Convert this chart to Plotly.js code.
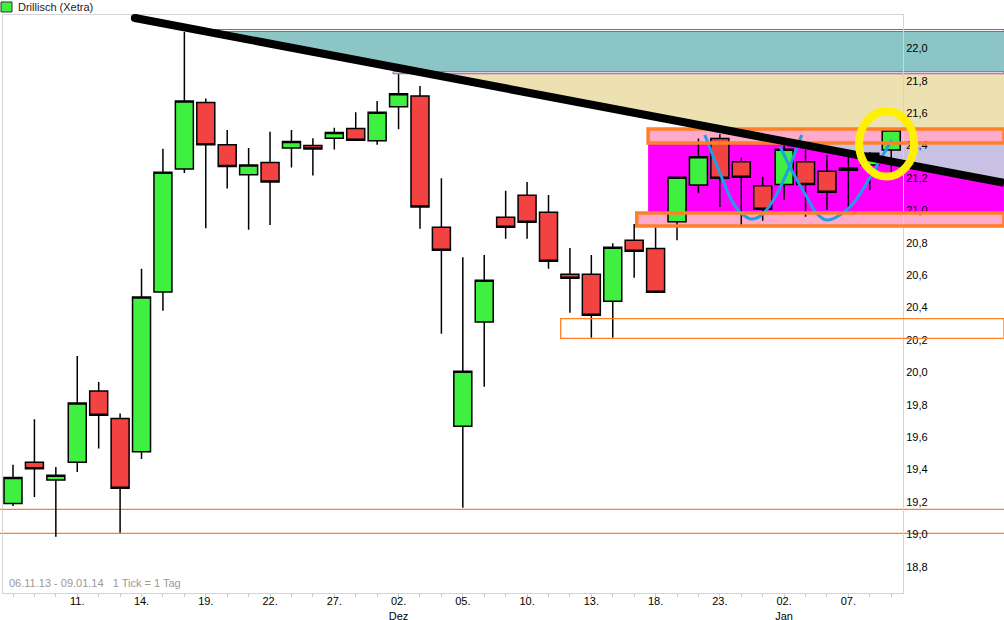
<!DOCTYPE html>
<html>
<head>
<meta charset="utf-8">
<script src="https://cdn.plot.ly/plotly-3.0.1.min.js"></script>
<style>html,body{margin:0;padding:0;background:#fff;}#chart{width:1004px;height:620px;}</style>
</head>
<body>
<div id="chart"></div>
<script>
// ---- data ----
const dates = ['2013-11-06','2013-11-07','2013-11-08','2013-11-11','2013-11-12','2013-11-13','2013-11-14','2013-11-15',
  '2013-11-18','2013-11-19','2013-11-20','2013-11-21','2013-11-22','2013-11-25','2013-11-26','2013-11-27','2013-11-28','2013-11-29',
  '2013-12-02','2013-12-03','2013-12-04','2013-12-05','2013-12-06','2013-12-09','2013-12-10','2013-12-11','2013-12-12','2013-12-13',
  '2013-12-16','2013-12-17','2013-12-18','2013-12-19','2013-12-20','2013-12-23','2013-12-27','2013-12-30',
  '2014-01-02','2014-01-03','2014-01-06','2014-01-07','2014-01-08','2014-01-09'];
const openP  = [19.19,19.445,19.335,19.445,19.885,19.715,19.51,20.495,21.255,21.665,21.405,21.22,21.295,21.385,21.40,21.445,21.505,21.43,
  21.64,21.705,20.895,19.667,20.31,20.957,21.093,20.988,20.605,20.605,20.438,20.815,20.765,20.93,21.156,21.444,21.30,21.152,
  21.16,21.30,21.241,21.247,21.28,21.372];
const highP  = [19.43,19.71,19.415,20.10,19.94,19.745,20.64,21.38,22.10,21.69,21.495,21.385,21.485,21.495,21.445,21.51,21.605,21.675,
  21.84,21.767,21.198,20.71,20.724,21.12,21.175,21.094,20.767,20.724,20.796,20.915,20.907,21.205,21.444,21.47,21.327,21.207,
  21.40,21.372,21.341,21.341,21.36,21.50];
const lowP   = [19.175,19.23,18.985,19.385,19.53,19.01,19.465,20.38,21.23,20.89,21.135,20.88,20.91,21.265,21.215,21.375,21.43,21.405,
  21.50,20.886,20.238,19.164,19.911,20.825,20.825,20.64,20.368,20.214,20.214,20.584,20.49,20.815,21.105,21.02,20.903,20.936,
  21.064,20.96,21.002,21.002,21.125,21.238];
const closeP = [19.35,19.405,19.365,19.81,19.735,19.285,20.465,21.235,21.675,21.405,21.27,21.28,21.175,21.425,21.378,21.48,21.432,21.605,
  21.72,21.02,20.753,20.006,20.568,20.895,20.926,20.685,20.58,20.352,20.772,20.747,20.494,21.204,21.331,21.198,21.204,21.006,
  21.377,21.16,21.111,21.261,21.352,21.496];

const tickIdx   = [3,6,9,12,15,18,21,24,27,30,33,36,39];
const tickLabel = ['11.','14.','19.','22.','27.','02.<br>Dez','05.','10.','13.','18.','23.','02.<br>Jan','07.'];
const yTicks = [18.8,19.0,19.2,19.4,19.6,19.8,20.0,20.2,20.4,20.6,20.8,21.0,21.2,21.4,21.6,21.8,22.0];

// drawing levels (values)
const tealZone   = [22.107, 21.853];
const purpleTop  = [22.116, 22.104];
const purpleBot  = [21.855, 21.843];
const beigeZone  = [21.843, 21.502];
const pinkTop    = [21.502, 21.415];
const pinkBot    = [20.983, 20.903];
const thinBox    = [20.331, 20.210];
const supportLines = [19.154, 19.006];
const trend = {i0: 5.69, v0: 22.187, slope: -0.02509};
const curveAx = [32.30,33.01,33.63,34.09,34.49,34.95,35.50,36.12,36.82];
const curveAy = [21.465,21.228,21.043,20.971,20.946,20.971,21.064,21.228,21.465];
const curveBx = [35.81,36.43,37.05,37.52,37.99,38.61,39.23,39.85,40.48,41.02];
const curveBy = [21.393,21.228,21.084,20.981,20.940,20.971,21.043,21.167,21.311,21.434];
const ring = {x0: 39.50, x1: 42.07, y0: 21.208, y1: 21.612};

// ---- layout geometry ----
const XR = [-0.467, 41.55];
const YR = [18.6377, 22.2056];
const RIGHT = 1.1122, LEFT = -0.0034;
const px = i => (i - XR[0]) / (XR[1] - XR[0]);
const py = v => (v - YR[0]) / (YR[1] - YR[0]);
const iR = XR[0] + RIGHT * (XR[1] - XR[0]);
const lineV = i => trend.v0 + trend.slope * (i - trend.i0);
const lineI = v => trend.i0 + (v - trend.v0) / trend.slope;
const idx = dates.map((d, i) => i);

function poly(pts){ return 'M' + pts.map(p => p[0].toFixed(5) + ',' + p[1].toFixed(5)).join('L') + 'Z'; }
function rectP(i0, v0, v1, fill, line, lw, layer){
  return {type:'rect', xref:'paper', yref:'paper', x0:px(i0), x1:RIGHT, y0:py(v0), y1:py(v1),
    fillcolor: fill || 'rgba(0,0,0,0)', line:{color: line || 'rgba(0,0,0,0)', width: lw || 0}, layer: layer};
}

const shapes = [
  {type:'path', xref:'paper', yref:'paper', layer:'below', fillcolor:'#8cc5c5', line:{width:0},
   path: poly([[px(lineI(tealZone[0])),py(tealZone[0])],[RIGHT,py(tealZone[0])],[RIGHT,py(tealZone[1])],[px(lineI(tealZone[1])),py(tealZone[1])]])},
  {type:'path', xref:'paper', yref:'paper', layer:'below', fillcolor:'#ede1b1', line:{width:0},
   path: poly([[px(lineI(beigeZone[0])),py(beigeZone[0])],[RIGHT,py(beigeZone[0])],[RIGHT,py(beigeZone[1])],[px(lineI(beigeZone[1])),py(beigeZone[1])]])},
  rectP(8.96, purpleTop[0], purpleTop[1], null, '#a050b0', 1, 'below'),
  rectP(17.74, purpleBot[0], purpleBot[1], null, '#a050b0', 1, 'below'),
  rectP(29.65, pinkTop[1], pinkBot[0], '#ff00ff', null, 0, 'below'),
  {type:'path', xref:'paper', yref:'paper', layer:'below', fillcolor:'#c9c1e3', line:{width:0},
   path: poly([[px(lineI(pinkTop[1])),py(pinkTop[1])],[RIGHT,py(pinkTop[1])],[RIGHT,py(lineV(iR))]])},
  rectP(29.65, pinkTop[0], pinkTop[1], '#ffaacb', null, 0, 'below'),
  rectP(29.12, pinkBot[0], pinkBot[1], '#ffaacb', null, 0, 'below'),
  {type:'line', xref:'paper', yref:'paper', layer:'below', x0:LEFT, x1:RIGHT, y0:py(supportLines[0]), y1:py(supportLines[0]), line:{color:'#ff8027', width:1.2}},
  {type:'line', xref:'paper', yref:'paper', layer:'below', x0:LEFT, x1:RIGHT, y0:py(supportLines[1]), y1:py(supportLines[1]), line:{color:'#ff8027', width:1.2}},
  rectP(29.65, pinkTop[0], pinkTop[1], null, '#ff8027', 3.5, 'above'),
  rectP(29.12, pinkBot[0], pinkBot[1], null, '#ff8027', 3.5, 'above'),
  rectP(25.57, thinBox[0], thinBox[1], null, '#ff8027', 1.3, 'above'),
  {type:'line', xref:'paper', yref:'paper', layer:'above', x0:px(trend.i0), y0:py(trend.v0), x1:RIGHT, y1:py(lineV(iR)), line:{color:'#000000', width:8}},
  {type:'circle', xref:'paper', yref:'paper', layer:'above', fillcolor:'#000', line:{width:0},
   x0:px(trend.i0)-0.0045, x1:px(trend.i0)+0.0045, y0:py(trend.v0)-0.007, y1:py(trend.v0)+0.007},
  {type:'circle', xref:'paper', yref:'paper', layer:'above', x0:px(ring.x0), x1:px(ring.x1), y0:py(ring.y0), y1:py(ring.y1),
   line:{color:'#fff000', width:8}},
  {type:'rect', xref:'paper', yref:'paper', x0:-0.0022, x1:0.0100, y0:1.0052, y1:1.0225, fillcolor:'#40f040', line:{color:'#333', width:1}}
];

const font = 'Liberation Sans, Arial, sans-serif';

const traces = [
  {type:'candlestick', x: idx, open: openP, high: highP, low: lowP, close: closeP, text: dates,
   increasing:{fillcolor:'#40f040', line:{color:'#000', width:1.5}},
   decreasing:{fillcolor:'#f24242', line:{color:'#000', width:1.5}},
   whiskerwidth:0, showlegend:false, hoverinfo:'x+y+text'},
  {type:'scatter', mode:'lines', x: curveAx, y: curveAy, line:{color:'#1e9fe6', width:3, shape:'spline'}, showlegend:false, hoverinfo:'skip'},
  {type:'scatter', mode:'lines', x: curveBx, y: curveBy, line:{color:'#1e9fe6', width:3, shape:'spline'}, showlegend:false, hoverinfo:'skip'}
];

const layout = {
  width:1004, height:620,
  margin:{l:3, r:101, t:15, b:27},
  paper_bgcolor:'#fff', plot_bgcolor:'#fff',
  separators: ',.',
  boxgap: 0.16, boxgroupgap: 0,
  showlegend:false,
  font:{family:font, size:11, color:'#000'},
  xaxis:{type:'linear', range:XR, showgrid:false, zeroline:false, showline:true, mirror:true, linecolor:'#d4d4d4', linewidth:1,
    tickmode:'array', tickvals: tickIdx, ticktext: tickLabel, ticks:'', ticklabelstandoff:-2,
    minor:{ticks:'outside', ticklen:3, tickcolor:'#cccccc', tick0:0, dtick:1, showgrid:false},
    tickfont:{family:font, size:11, color:'#000'}, rangeslider:{visible:false}, fixedrange:true},
  yaxis:{range:YR, side:'right', showgrid:false, zeroline:false, showline:true, mirror:true, linecolor:'#d4d4d4', linewidth:1,
    tickmode:'array', tickvals:yTicks, ticktext: yTicks.map(v => v.toFixed(1).replace('.', ',')), ticks:'',
    tickfont:{family:font, size:11, color:'#000'}, fixedrange:true},
  shapes: shapes,
  annotations:[
    {xref:'paper', yref:'paper', x:0.0144, y:1.0138, xanchor:'left', yanchor:'middle', showarrow:false,
     text:'Drillisch (Xetra)', font:{family:font, size:11, color:'#222'}},
    {xref:'paper', yref:'paper', x:0.0044, y:0.0173, xanchor:'left', yanchor:'middle', showarrow:false,
     text:'06.11.13 - 09.01.14   1 Tick = 1 Tag', font:{family:font, size:11, color:'#999'}}
  ]
};

Plotly.newPlot('chart', traces, layout, {displayModeBar:false, staticPlot:true});
</script>
</body>
</html>
